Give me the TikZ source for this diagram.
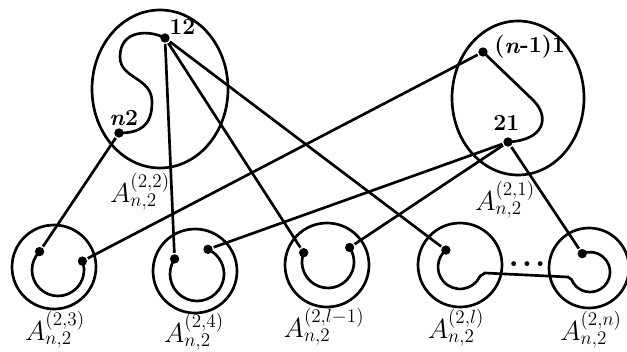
\documentclass[tikz,border=0pt]{standalone}
\tikzset{
  pt/.style={circle,fill,inner sep=0pt,minimum size=7pt},
  lbl/.style={anchor=base,inner sep=0pt,font=\huge},
  num/.style={anchor=base west,inner sep=0pt,font=\LARGE\bfseries},
}
\begin{document}
\begin{tikzpicture}[x=0.75pt,y=0.75pt,line width=2pt]
\useasboundingbox (0,0) rectangle (627,351);

\draw (160,262) ellipse [x radius=68, y radius=79];
\node[pt] (p12) at (165,313) {};
\node[pt] (pn2) at (119,218) {};
\node[num] (t12) at (168,316) {12};
\node[num] (tn2) at (108,226) {\textit{n}2};
\draw (p12.center) .. controls (150,321) and (120,322) .. (120,294)
  .. controls (120,272) and (152,274) .. (152,249)
  .. controls (152,225) and (140,218) .. (pn2.center);
\node[lbl] (A22) at (140,149) {$A_{n,2}^{(2,2)}$};

\draw (518,253) ellipse [x radius=66, y radius=77];
\node[pt] (pn1) at (483,299) {};
\node[pt] (p21) at (508,209) {};
\node[num] (tn1) at (493,298) {(\textit{n}-1)1};
\node[num] (t21) at (492,221) {21};
\draw (pn1.center) -- (533,251) .. controls (550,234) and (545,211) .. (p21.center);
\node[lbl] (A21) at (505,141) {$A_{n,2}^{(2,1)}$};

\draw (54,84) circle [radius=42];
\node[pt] (c1a) at (39.6,99.4) {};
\node[pt] (c1b) at (82.4,89.9) {};
\draw (c1a.center) arc [start angle=135, end angle=380, radius=26];
\node[lbl] (A23) at (55,11) {$A_{n,2}^{(2,3)}$};

\draw (195,80) circle [radius=42];
\node[pt] (c2a) at (174.6,92.1) {};
\node[pt] (c2b) at (208.0,101.7) {};
\draw (c2a.center) arc [start angle=146, end angle=426, radius=27];
\node[lbl] (A24) at (194,9) {$A_{n,2}^{(2,4)}$};

\draw (327,86) circle [radius=42];
\node[pt] (c3a) at (303.7,98.3) {};
\node[pt] (c3b) at (349.6,103.5) {};
\draw (c3a.center) arc [start angle=159, end angle=394, radius=26];
\node[lbl] (A2l1) at (324,14) {$A_{n,2}^{(2,l-1)}$};

\draw (460,86) circle [radius=42];
\node[pt] (c4a) at (445.9,100.9) {};
\node[lbl] (A2l) at (456,13) {$A_{n,2}^{(2,l)}$};

\draw (589,83) circle [radius=40];
\node[pt] (c5a) at (582.2,97.4) {};
\node[lbl] (A2n) at (591,11) {$A_{n,2}^{(2,n)}$};

\draw (c4a.center) arc [start angle=130, end angle=335, radius=22]
  -- (485,78) -- (568,74) -- (571.5,71.5)
  arc [start angle=202, end angle=473, radius=20];
\node[anchor=base,inner sep=0pt] (etc) at (527,85) {\Huge\bfseries .\kern2.2pt.\kern2.2pt.};

\draw (p12) -- (c2a);
\draw (p12) -- (c3a);
\draw (p12) -- (c4a);
\draw (pn2) -- (c1a);
\draw (pn1) -- (c1b);
\draw (p21) -- (c2b);
\draw (p21) -- (c3b);
\draw (p21) -- (c5a);
\end{tikzpicture}
\end{document}
